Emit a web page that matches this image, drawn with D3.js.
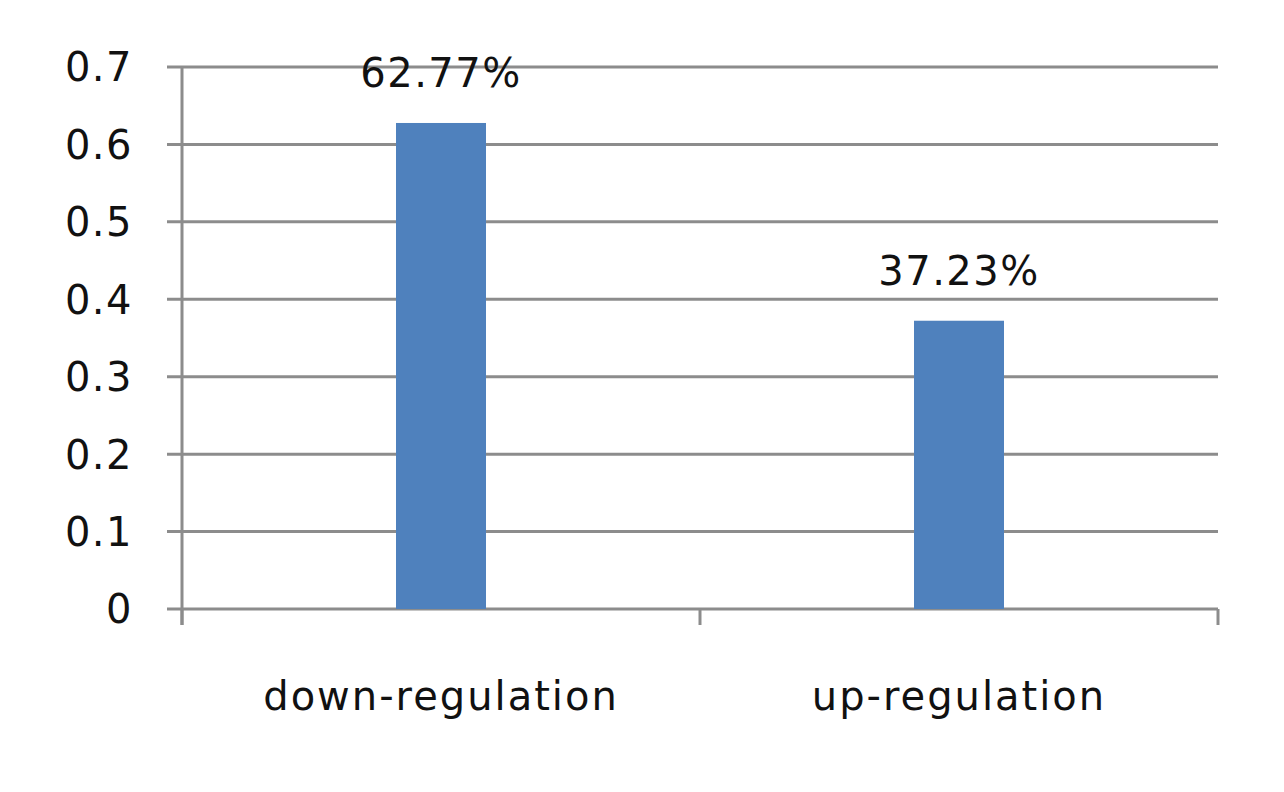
<!DOCTYPE html>
<html><head><meta charset="utf-8">
<script src="https://cdn.jsdelivr.net/npm/d3@7"></script>
<style>body{margin:0;background:#fff}</style>
</head><body>
<svg id="c" width="1284" height="792"></svg>
<script>
const categories = ["down-regulation", "up-regulation"];
const values = [0.6277, 0.3723];
const labels = ["62.77%", "37.23%"];
const yTicks = [0, 0.1, 0.2, 0.3, 0.4, 0.5, 0.6, 0.7];

(function () {
const svg = d3.select("#c");
const mLeft = 182, mRight = 1218, mTop = 67, mBottom = 609;
const font = "DejaVu Sans";
const fs = 40, ls = 1.5;
const x = d3.scaleBand().domain(categories).range([mLeft, mRight]).paddingInner(0).paddingOuter(0);
const y = d3.scaleLinear().domain([0, 0.7]).range([mBottom, mTop]);
const grey = "#8c8c8c";

// gridlines
svg.append("g").selectAll("line").data(yTicks).join("line")
  .attr("x1", mLeft - 15).attr("x2", mRight)
  .attr("y1", d => y(d)).attr("y2", d => y(d))
  .attr("stroke", grey).attr("stroke-width", 3);

// y axis line
svg.append("line").attr("x1", mLeft).attr("x2", mLeft).attr("y1", mTop).attr("y2", mBottom + 16)
  .attr("stroke", grey).attr("stroke-width", 3);

// x ticks
const xt = [mLeft, ...categories.slice(1).map(c => x(c)), mRight];
svg.append("g").selectAll("line").data(xt).join("line")
  .attr("x1", d => d).attr("x2", d => d).attr("y1", mBottom).attr("y2", mBottom + 16)
  .attr("stroke", grey).attr("stroke-width", 3);

// y labels
svg.append("g").selectAll("text").data(yTicks).join("text")
  .attr("x", 133).attr("y", d => y(d)).attr("dy", "0.36em")
  .attr("text-anchor", "end").attr("font-family", font).attr("font-size", fs)
  .attr("letter-spacing", ls)
  .attr("fill", "#111").text(d => d === 0 ? "0" : d3.format(".1f")(d));

// bars
const bw = 90;
svg.append("g").selectAll("rect").data(values).join("rect")
  .attr("x", (d, i) => x(categories[i]) + x.bandwidth() / 2 - bw / 2)
  .attr("width", bw)
  .attr("y", d => y(d)).attr("height", d => y(0) - y(d))
  .attr("fill", "#4f81bd");

// value labels
svg.append("g").selectAll("text").data(values).join("text")
  .attr("x", (d, i) => x(categories[i]) + x.bandwidth() / 2)
  .attr("y", d => y(d) - 36)
  .attr("text-anchor", "middle").attr("font-family", font).attr("font-size", fs)
  .attr("letter-spacing", ls)
  .attr("fill", "#111").text((d, i) => labels[i]);

// category labels
svg.append("g").selectAll("text").data(categories).join("text")
  .attr("x", d => x(d) + x.bandwidth() / 2)
  .attr("y", 710)
  .attr("text-anchor", "middle").attr("font-family", font).attr("font-size", fs)
  .attr("letter-spacing", 2)
  .attr("fill", "#111").text(d => d);
})();
</script>
</body></html>
